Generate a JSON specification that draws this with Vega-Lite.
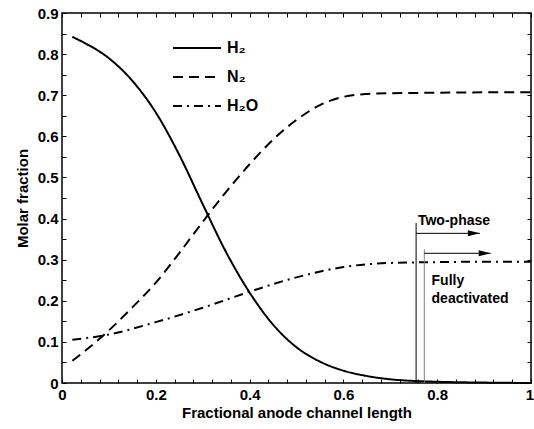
{
  "$schema": "https://vega.github.io/schema/vega-lite/v6.json",
  "width": 469,
  "height": 370,
  "autosize": {"type": "none"},
  "padding": {"left": 62, "top": 13, "right": 3, "bottom": 46},
  "background": "white",
  "config": {
    "view": {"stroke": "black", "strokeWidth": 1.5},
    "font": "Liberation Sans",
    "axis": {
      "labelFont": "Liberation Sans", "labelFontWeight": "bold", "labelFontSize": 15, "labelColor": "black",
      "titleFont": "Liberation Sans", "titleFontWeight": "bold", "titleFontSize": 15, "titleColor": "black",
      "grid": false, "domain": false, "tickColor": "black", "tickWidth": 1, "tickSize": -4
    },
    "legend": {"labelFont": "Liberation Sans", "labelFontWeight": "bold", "labelFontSize": 16, "labelColor": "black"}
  },
  "datasets": {
    "curves": [
      {"x": 0.022, "y": 0.842, "gas": "H₂"},
      {"x": 0.05, "y": 0.826, "gas": "H₂"},
      {"x": 0.1, "y": 0.790, "gas": "H₂"},
      {"x": 0.15, "y": 0.735, "gas": "H₂"},
      {"x": 0.2, "y": 0.658, "gas": "H₂"},
      {"x": 0.25, "y": 0.555, "gas": "H₂"},
      {"x": 0.3, "y": 0.435, "gas": "H₂"},
      {"x": 0.35, "y": 0.318, "gas": "H₂"},
      {"x": 0.4, "y": 0.220, "gas": "H₂"},
      {"x": 0.45, "y": 0.142, "gas": "H₂"},
      {"x": 0.5, "y": 0.087, "gas": "H₂"},
      {"x": 0.55, "y": 0.052, "gas": "H₂"},
      {"x": 0.6, "y": 0.030, "gas": "H₂"},
      {"x": 0.65, "y": 0.017, "gas": "H₂"},
      {"x": 0.7, "y": 0.009, "gas": "H₂"},
      {"x": 0.75, "y": 0.005, "gas": "H₂"},
      {"x": 0.8, "y": 0.003, "gas": "H₂"},
      {"x": 0.9, "y": 0.001, "gas": "H₂"},
      {"x": 1.0, "y": 0.0, "gas": "H₂"},
      {"x": 0.022, "y": 0.054, "gas": "N₂"},
      {"x": 0.06, "y": 0.088, "gas": "N₂"},
      {"x": 0.1, "y": 0.128, "gas": "N₂"},
      {"x": 0.15, "y": 0.184, "gas": "N₂"},
      {"x": 0.2, "y": 0.244, "gas": "N₂"},
      {"x": 0.25, "y": 0.316, "gas": "N₂"},
      {"x": 0.3, "y": 0.392, "gas": "N₂"},
      {"x": 0.35, "y": 0.465, "gas": "N₂"},
      {"x": 0.4, "y": 0.532, "gas": "N₂"},
      {"x": 0.45, "y": 0.592, "gas": "N₂"},
      {"x": 0.5, "y": 0.640, "gas": "N₂"},
      {"x": 0.55, "y": 0.676, "gas": "N₂"},
      {"x": 0.6, "y": 0.696, "gas": "N₂"},
      {"x": 0.65, "y": 0.703, "gas": "N₂"},
      {"x": 0.7, "y": 0.705, "gas": "N₂"},
      {"x": 0.8, "y": 0.706, "gas": "N₂"},
      {"x": 0.9, "y": 0.707, "gas": "N₂"},
      {"x": 1.0, "y": 0.707, "gas": "N₂"},
      {"x": 0.022, "y": 0.105, "gas": "H₂O"},
      {"x": 0.1, "y": 0.118, "gas": "H₂O"},
      {"x": 0.2, "y": 0.148, "gas": "H₂O"},
      {"x": 0.3, "y": 0.183, "gas": "H₂O"},
      {"x": 0.4, "y": 0.222, "gas": "H₂O"},
      {"x": 0.5, "y": 0.257, "gas": "H₂O"},
      {"x": 0.6, "y": 0.282, "gas": "H₂O"},
      {"x": 0.7, "y": 0.292, "gas": "H₂O"},
      {"x": 0.8, "y": 0.294, "gas": "H₂O"},
      {"x": 0.9, "y": 0.295, "gas": "H₂O"},
      {"x": 1.0, "y": 0.295, "gas": "H₂O"}
    ],
    "markers": [
      {"label": "Two-phase", "x": 0.755, "y": 0, "y2": 0.389, "tip": 0.891, "ya": 0.364},
      {"label": "Fully deactivated", "x": 0.7725, "y": 0, "y2": 0.325, "tip": 0.914, "ya": 0.3155}
    ],
    "notes": [
      {"text": "Two-phase", "x": 0.759, "y": 0.384},
      {"text": "Fully", "x": 0.788, "y": 0.238},
      {"text": "deactivated", "x": 0.788, "y": 0.194}
    ]
  },
  "resolve": {"axis": {"x": "independent", "y": "independent"}},
  "layer": [
    {
      "data": {"name": "curves"},
      "mark": {"type": "line", "color": "black", "strokeWidth": 2, "interpolate": "monotone"},
      "encoding": {
        "x": {"field": "x", "type": "quantitative",
              "scale": {"domain": [0, 1], "nice": false},
              "axis": {"orient": "bottom", "title": "Fractional anode channel length", "format": "~g",
                       "values": [0,0.04,0.08,0.12,0.16,0.2,0.24,0.28,0.32,0.36,0.4,0.44,0.48,0.52,0.56,0.6,0.64,0.68,0.72,0.76,0.8,0.84,0.88,0.92,0.96,1],
                       "labelExpr": "round(datum.value*100) % 20 == 0 ? datum.label : ''",
                       "labelAlign": {"condition": {"test": "datum.value == 1", "value": "right"}, "value": "center"},
                       "labelOffset": {"condition": {"test": "datum.value == 1", "value": 2.5}, "value": 0},
                       "labelPadding": 8, "titlePadding": 3, "labelFlush": false}},
        "y": {"field": "y", "type": "quantitative",
              "scale": {"domain": [0, 0.9], "nice": false},
              "axis": {"orient": "left", "title": "Molar fraction", "format": "~g",
                       "values": [0,0.05,0.1,0.15,0.2,0.25,0.3,0.35,0.4,0.45,0.5,0.55,0.6,0.65,0.7,0.75,0.8,0.85,0.9],
                       "labelExpr": "round(datum.value*100) % 10 == 0 ? datum.label : ''",
                       "labelPadding": 8, "titlePadding": 7, "labelFlush": false}},
        "strokeDash": {"field": "gas", "type": "nominal",
                       "scale": {"domain": ["H₂", "N₂", "H₂O"], "range": [[1, 0], [10, 6], [9, 5, 2, 5]]},
                       "legend": {"title": null, "orient": "none", "legendX": 124, "legendY": 24,
                                  "symbolType": "M -2.4 0 L 2.4 0", "symbolSize": 400, "symbolStrokeWidth": 2,
                                  "symbolStrokeColor": "black", "symbolFillColor": "transparent",
                                  "labelOffset": 19, "rowPadding": 10, "padding": 0}}
      }
    },
    {
      "data": {"name": "markers"},
      "transform": [{"filter": "datum.label == 'Two-phase'"}],
      "mark": {"type": "rule", "color": "black", "strokeWidth": 1},
      "encoding": {
        "x": {"field": "x", "type": "quantitative",
              "axis": {"orient": "top", "title": null, "labels": false,
                       "values": [0,0.04,0.08,0.12,0.16,0.2,0.24,0.28,0.32,0.36,0.4,0.44,0.48,0.52,0.56,0.6,0.64,0.68,0.72,0.76,0.8,0.84,0.88,0.92,0.96,1]}},
        "y": {"field": "y", "type": "quantitative",
              "axis": {"orient": "right", "title": null, "labels": false,
                       "values": [0,0.05,0.1,0.15,0.2,0.25,0.3,0.35,0.4,0.45,0.5,0.55,0.6,0.65,0.7,0.75,0.8,0.85,0.9]}},
        "y2": {"field": "y2"}
      }
    },
    {
      "data": {"name": "markers"},
      "transform": [{"filter": "datum.label != 'Two-phase'"}],
      "mark": {"type": "rule", "color": "#808080", "strokeWidth": 1},
      "encoding": {
        "x": {"field": "x", "type": "quantitative", "axis": null},
        "y": {"field": "y", "type": "quantitative", "axis": null},
        "y2": {"field": "y2"}
      }
    },
    {
      "data": {"name": "markers"},
      "mark": {"type": "rule", "color": "black", "strokeWidth": 1},
      "encoding": {
        "x": {"field": "x", "type": "quantitative", "axis": null},
        "x2": {"field": "tip"},
        "y": {"field": "ya", "type": "quantitative", "axis": null}
      }
    },
    {
      "data": {"name": "markers"},
      "mark": {"type": "point", "shape": "M 0 0 L -2 -0.5 L -2 0.5 Z", "filled": true, "color": "black", "size": 144, "opacity": 1},
      "encoding": {
        "x": {"field": "tip", "type": "quantitative", "axis": null},
        "y": {"field": "ya", "type": "quantitative", "axis": null}
      }
    },
    {
      "data": {"name": "notes"},
      "mark": {"type": "text", "align": "left", "baseline": "alphabetic", "font": "Liberation Sans", "fontWeight": "bold", "fontSize": 14, "color": "black"},
      "encoding": {
        "x": {"field": "x", "type": "quantitative", "axis": null},
        "y": {"field": "y", "type": "quantitative", "axis": null},
        "text": {"field": "text"}
      }
    }
  ]
}
